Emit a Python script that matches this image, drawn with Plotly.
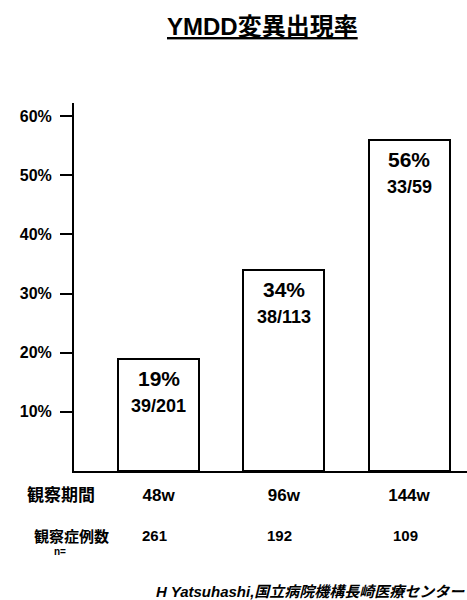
import plotly.graph_objects as go

# Observation period, mutation rate and counts
periods = ["48w", "96w", "144w"]
rates = [19, 34, 56]
fractions = ["39/201", "38/113", "33/59"]
cases = [261, 192, 109]
y_tick_vals = [10, 20, 30, 40, 50, 60]
y_tick_text = ["10%", "20%", "30%", "40%", "50%", "60%"]

FONT = "Liberation Sans, Arial, Noto Sans CJK JP, sans-serif"
CJK = "Noto Sans CJK JP, sans-serif"

# Canvas and plot-area geometry (pixels)
W, H = 467, 600
L, T, B, R = 74, 103, 129, 0
PLOT_W = W - L - R
PLOT_H = H - T - B


def px_x(x):
    return (x - L) / PLOT_W


def px_y(y):
    return (H - B - y) / PLOT_H


x_pos = list(range(len(periods)))

fig = go.Figure()
fig.add_trace(go.Bar(
    x=x_pos, y=rates, width=0.647,
    marker=dict(color="white", line=dict(color="black", width=2)),
    hoverinfo="skip", showlegend=False,
))

# Percentage and fraction labels inside each bar
for xi, r, fr in zip(x_pos, rates, fractions):
    fig.add_annotation(x=xi, y=r, xref="x", yref="y", text=f"<b>{r}%</b>",
                       showarrow=False, xanchor="center", yanchor="middle", yshift=-20,
                       font=dict(family=FONT, size=21, color="black"))
    fig.add_annotation(x=xi, y=r, xref="x", yref="y", text=f"<b>{fr}</b>",
                       showarrow=False, xanchor="center", yanchor="middle", yshift=-47,
                       font=dict(family=FONT, size=18, color="black"))

# Case-count row under the axis
for xi, c in zip(x_pos, cases):
    fig.add_annotation(x=xi, y=px_y(535), xref="x", yref="paper", text=f"<b>{c}</b>",
                       showarrow=False, xanchor="center", yanchor="middle", xshift=-4,
                       font=dict(family=FONT, size=15, color="black"))

# Row headings
fig.add_annotation(x=px_x(61), y=px_y(493), xref="paper", yref="paper", text="<b>観察期間</b>",
                   showarrow=False, xanchor="center", yanchor="middle",
                   font=dict(family=CJK, size=17, color="black"))
fig.add_annotation(x=px_x(71), y=px_y(535), xref="paper", yref="paper", text="<b>観察症例数</b>",
                   showarrow=False, xanchor="center", yanchor="middle",
                   font=dict(family=CJK, size=15, color="black"))
fig.add_annotation(x=px_x(60), y=px_y(551), xref="paper", yref="paper", text="<b>n=</b>",
                   showarrow=False, xanchor="center", yanchor="middle",
                   font=dict(family=FONT, size=10, color="black"))

# Title and source
fig.add_annotation(x=px_x(262), y=px_y(27), xref="paper", yref="paper",
                   text="<b><u>YMDD変異出現率</u></b>", showarrow=False,
                   xanchor="center", yanchor="middle",
                   font=dict(family=FONT, size=24, color="black"))
fig.add_annotation(x=px_x(467), y=px_y(591), xref="paper", yref="paper",
                   xanchor="right", yanchor="middle",
                   text="<b><i>H Yatsuhashi,国立病院機構長崎医療センター</i></b>",
                   showarrow=False, font=dict(family=FONT, size=15, color="black"))

fig.update_layout(
    width=W, height=H,
    margin=dict(l=L, r=R, t=T, b=B, pad=0),
    paper_bgcolor="white", plot_bgcolor="white",
    font=dict(family=FONT, color="black"),
    xaxis=dict(range=[-0.675, 2.463], tickvals=x_pos, ticktext=[f"<b>{p}</b>" for p in periods],
               showgrid=False, zeroline=False, showline=True, linecolor="black", linewidth=2,
               ticks="", tickfont=dict(family=FONT, size=17, color="black"),
               ticklabelstandoff=8, fixedrange=True),
    yaxis=dict(range=[0, 62.2], tickvals=y_tick_vals, ticktext=[f"<b>{t}</b>" for t in y_tick_text],
               showgrid=False, zeroline=False, showline=True, linecolor="black", linewidth=2,
               ticks="outside", ticklen=12, tickwidth=2, tickcolor="black",
               ticklabelstandoff=5,
               tickfont=dict(family=FONT, size=16, color="black"), fixedrange=True),
    bargap=0,
)

fig.write_html("out.html", config={"displayModeBar": False})
